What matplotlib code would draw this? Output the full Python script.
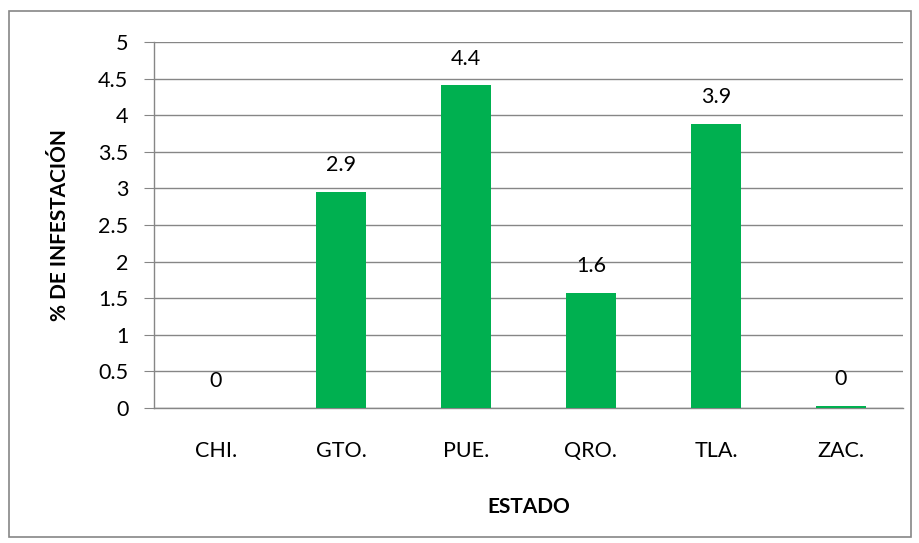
import matplotlib
matplotlib.use("Agg")
import matplotlib.pyplot as plt
from matplotlib.patches import Rectangle

categories = ["CHI.", "GTO.", "PUE.", "QRO.", "TLA.", "ZAC."]
values = [0.0, 2.95, 4.41, 1.57, 3.88, 0.03]
labels = ["0", "2.9", "4.4", "1.6", "3.9", "0"]
yticks = [0, 0.5, 1, 1.5, 2, 2.5, 3, 3.5, 4, 4.5, 5]
ytick_labels = ["0", "0.5", "1", "1.5", "2", "2.5", "3", "3.5", "4", "4.5", "5"]

plt.rcParams['font.family'] = ['Lato', 'DejaVu Sans']

fig = plt.figure(figsize=(9.2, 5.43), dpi=100)
fig.patch.set_facecolor("white")
fig.patches.append(Rectangle((9/920, 1 - 537/543), (911-9)/920, (537-11)/543,
                             transform=fig.transFigure, fill=False,
                             edgecolor="#868686", linewidth=1.2))

ax = fig.add_axes([153.5/920, 1 - 408/543, 750/920, (408-42)/543])
x = list(range(len(categories)))
ax.bar(x, values, width=0.4, color="#00B050", zorder=3)
ax.set_xlim(-0.5, len(categories) - 0.5)
ax.set_ylim(0, 5)
ax.set_yticks(yticks)
ax.set_yticklabels(ytick_labels)
ax.set_xticks(x)
ax.set_xticklabels(categories)
ax.grid(axis="y", color="#868686", linewidth=1.0, zorder=0)
for s in ["top", "right"]:
    ax.spines[s].set_visible(False)
for s in ["left", "bottom"]:
    ax.spines[s].set_color("#868686")
    ax.spines[s].set_linewidth(1.0)
ax.tick_params(axis="y", length=7, color="#868686", labelsize=15.5, pad=11)
ax.tick_params(axis="x", length=0, labelsize=15.5, pad=24)

for xi, v, lab in zip(x, values, labels):
    ax.annotate(lab, (xi, v), xytext=(0, 12), textcoords="offset points",
                ha="center", va="bottom", fontsize=15.5)

ax.set_ylabel("% DE INFESTACIÓN", fontsize=15, fontweight="bold", labelpad=20)
ax.set_xlabel("ESTADO", fontsize=15, fontweight="bold", labelpad=26)

fig.savefig("out.png", dpi=100)
